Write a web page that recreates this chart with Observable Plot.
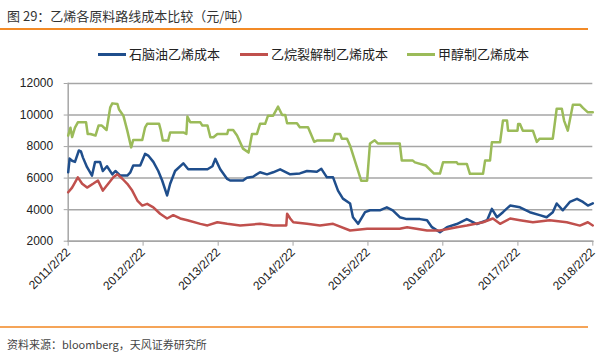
<!DOCTYPE html>
<html>
<head>
<meta charset="utf-8">
<script src="https://cdn.jsdelivr.net/npm/d3@7"></script>
<script src="https://cdn.jsdelivr.net/npm/@observablehq/plot@0.6"></script>
<style>
  html, body { margin:0; padding:0; background:#fff; width:598px; height:358px; overflow:hidden; position:relative; font-family:"Noto Sans CJK SC","Liberation Sans",sans-serif; }
  #title { position:absolute; left:7px; top:6px; font-size:13px; color:#333; white-space:nowrap; }
  #topline { position:absolute; left:0; top:28px; width:588px; height:2px; background:#f28a26; }
  #legend { position:absolute; top:46px; left:0; width:598px; height:16px; }
  .lg { position:absolute; top:0; font-size:13px; color:#222; line-height:16px; white-space:nowrap; }
  .sw { display:inline-block; width:28px; height:3px; vertical-align:middle; margin-right:3px; position:relative; top:-1px; }
  #chart { position:absolute; left:0; top:60px; }
  #botline { position:absolute; left:0; top:326px; width:588px; height:2px; background:#f5a458; }
  #caption { position:absolute; left:7px; top:336px; font-size:11px; color:#444; white-space:nowrap; }
</style>
</head>
<body>
<div id="title">图 29：乙烯各原料路线成本比较（元/吨）</div>
<div id="topline"></div>
<div id="legend"></div>
<div id="chart"></div>
<div id="botline"></div>
<div id="caption">资料来源：bloomberg，天风证券研究所</div>
<script>
const seriesNames = ["石脑油乙烯成本", "乙烷裂解制乙烯成本", "甲醇制乙烯成本"];
const seriesColors = ["#1f4e8c", "#c0504d", "#9bbb59"];
const xTickLabels = ["2011/2/22","2012/2/22","2013/2/22","2014/2/22","2015/2/22","2016/2/22","2017/2/22","2018/2/22"];
const yTicks = [2000, 4000, 6000, 8000, 10000, 12000];

const naphtha = [
["2011-02-22",6370],["2011-03-01",7240],["2011-03-13",7100],["2011-03-27",7030],["2011-04-15",7750],["2011-04-25",7700],
["2011-05-05",7300],["2011-05-25",6690],["2011-06-18",6160],["2011-07-03",7030],["2011-07-27",7030],["2011-08-10",6450],
["2011-08-30",6750],["2011-09-25",6240],["2011-10-10",6450],["2011-11-03",6160],["2011-12-07",6160],["2011-12-22",6370],
["2012-01-05",6800],["2012-02-08",6800],["2012-03-03",7540],["2012-03-18",7430],["2012-04-12",7030],["2012-05-06",6450],
["2012-05-25",5850],["2012-06-18",4900],["2012-07-03",5640],["2012-07-27",6450],["2012-09-05",6940],["2012-09-29",6560],
["2012-11-27",6560],["2013-01-01",6560],["2013-01-25",6750],["2013-02-08",7220],["2013-03-04",6560],["2013-04-07",5950],
["2013-04-21",5850],["2013-06-23",5850],["2013-07-12",6030],["2013-08-11",6090],["2013-09-14",6370],["2013-10-18",6240],
["2013-11-17",6370],["2013-12-21",6560],["2014-02-08",6240],["2014-03-27",6300],["2014-05-01",6450],["2014-06-18",6400],
["2014-07-10",6590],["2014-08-06",6050],["2014-09-05",6050],["2014-09-29",5210],["2014-10-23",4700],["2014-11-27",4390],
["2014-12-11",3520],["2015-01-05",3100],["2015-02-08",3840],["2015-03-04",3960],["2015-04-21",3960],["2015-05-25",4150],
["2015-06-23",3960],["2015-07-27",3520],["2015-08-30",3400],["2015-11-02",3400],["2015-12-07",3330],["2015-12-31",2890],
["2016-02-08",2570],["2016-03-13",2890],["2016-04-30",3090],["2016-06-18",3400],["2016-08-06",3090],["2016-09-25",3330],
["2016-10-18",4050],["2016-11-12",3520],["2016-12-11",3840],["2017-01-15",4260],["2017-03-04",4150],["2017-04-21",3840],
["2017-06-08",3650],["2017-07-12",3520],["2017-08-11",3840],["2017-08-30",4390],["2017-09-29",3960],["2017-11-02",4490],
["2017-12-07",4690],["2018-01-05",4490],["2018-01-29",4260],["2018-02-22",4400]
];

const ethane = [
["2011-02-22",5100],["2011-03-13",5400],["2011-04-10",6050],["2011-05-01",5640],["2011-05-25",5400],["2011-06-23",5640],
["2011-07-17",5850],["2011-08-10",5210],["2011-09-05",5640],["2011-09-30",6050],["2011-10-20",6240],["2011-11-13",5960],
["2011-12-07",5640],["2011-12-31",5210],["2012-01-25",4580],["2012-02-18",4260],["2012-03-13",4370],["2012-04-12",4150],
["2012-05-15",3740],["2012-06-18",3440],["2012-07-18",3650],["2012-08-21",3440],["2012-09-25",3330],["2012-11-27",3100],
["2013-01-01",3000],["2013-02-18",3200],["2013-04-07",3100],["2013-06-09",3000],["2013-09-14",3100],["2013-11-17",3000],
["2014-01-20",3000],["2014-01-24",3740],["2014-02-08",3440],["2014-02-23",3200],["2014-05-01",3100],["2014-07-03",3000],
["2014-09-05",3100],["2014-11-27",2680],["2015-02-18",2790],["2015-07-27",2790],["2015-09-01",2890],["2015-12-07",2680],
["2016-02-08",2680],["2016-04-30",2890],["2016-06-18",2990],["2016-09-05",3200],["2016-10-23",3440],["2016-11-27",3100],
["2017-01-15",3440],["2017-03-04",3330],["2017-05-06",3200],["2017-07-27",3330],["2017-10-18",3200],["2017-12-21",2990],
["2018-01-29",3200],["2018-02-22",3000]
];

const methanol = [
["2011-02-22",8700],["2011-03-05",9200],["2011-03-13",8600],["2011-03-27",9200],["2011-04-10",9540],["2011-05-20",9540],
["2011-05-28",8800],["2011-06-10",8800],["2011-07-05",8700],["2011-07-20",9330],["2011-08-05",9330],["2011-08-28",9050],
["2011-09-15",10490],["2011-09-25",10740],["2011-10-20",10700],["2011-10-28",10350],["2011-11-18",9960],["2011-12-07",9010],
["2011-12-26",7950],["2012-01-05",8420],["2012-02-18",8420],["2012-03-03",9220],["2012-03-13",9440],["2012-05-10",9440],
["2012-05-18",9050],["2012-05-28",8380],["2012-06-23",8380],["2012-07-03",8900],["2012-09-05",8900],["2012-09-20",8800],
["2012-09-25",9900],["2012-10-09",9540],["2012-11-27",9540],["2012-12-07",9330],["2013-01-01",9330],["2013-01-15",8590],
["2013-01-30",8590],["2013-02-18",8800],["2013-04-07",8800],["2013-04-12",9050],["2013-05-06",9050],["2013-05-25",8700],
["2013-06-23",7870],["2013-07-20",7620],["2013-08-06",8800],["2013-08-30",8800],["2013-09-14",9440],["2013-10-09",9440],
["2013-10-23",9960],["2013-11-17",9960],["2013-12-11",10530],["2013-12-31",10000],["2014-01-15",10000],["2014-01-24",9480],
["2014-03-13",9480],["2014-03-27",9220],["2014-05-06",9220],["2014-05-20",8800],["2014-06-05",8300],["2014-06-18",8380],
["2014-09-05",8380],["2014-09-15",8800],["2014-10-09",8800],["2014-10-18",8500],["2014-11-12",8500],["2014-11-27",8060],
["2014-12-31",6670],["2015-01-20",5840],["2015-02-18",5840],["2015-03-04",8200],["2015-03-27",8400],["2015-04-11",8200],
["2015-07-27",8200],["2015-08-06",7110],["2015-09-29",7110],["2015-10-09",7000],["2015-12-01",6800],["2016-01-10",6290],
["2016-02-08",6290],["2016-02-23",7000],["2016-04-30",7000],["2016-05-05",6900],["2016-06-18",6900],["2016-07-03",6270],
["2016-09-05",6270],["2016-09-15",7110],["2016-10-09",7110],["2016-10-18",8270],["2016-11-27",8270],["2016-12-11",9650],
["2016-12-31",9650],["2017-01-05",9010],["2017-02-20",9010],["2017-02-23",9430],["2017-03-04",9430],["2017-03-18",9010],
["2017-05-06",9010],["2017-05-25",8300],["2017-06-08",8500],["2017-08-11",8500],["2017-08-30",10400],["2017-09-24",10400],
["2017-10-05",9650],["2017-10-23",9010],["2017-11-17",10660],["2017-12-21",10660],["2018-01-05",10450],["2018-01-29",10170],
["2018-02-22",10170]
];

const parse = d3.utcParse("%Y/%m/%d");
const xTicks = xTickLabels.map(s => parse(s));
const fmt = d => `${d.getUTCFullYear()}/${d.getUTCMonth()+1}/${d.getUTCDate()}`;

const rows = [];
[naphtha, ethane, methanol].forEach((arr, i) => {
  arr.forEach(([d, v]) => rows.push({date: new Date(d + "T00:00:00Z"), value: v, series: seriesNames[i]}));
});

// legend
const legendX = [98, 240, 407];
const legend = document.getElementById("legend");
seriesNames.forEach((n, i) => {
  const el = document.createElement("div");
  el.className = "lg";
  el.style.left = legendX[i] + "px";
  el.innerHTML = `<span class="sw" style="background:${seriesColors[i]}"></span>${n}`;
  legend.appendChild(el);
});

const chart = Plot.plot({
  width: 598,
  height: 265,
  marginTop: 23,
  marginLeft: 67.7,
  marginRight: 5.7,
  marginBottom: 84.3,
  style: {fontFamily: "'Liberation Sans', Arial, sans-serif", fontSize: "12px", color: "#222", background: "transparent"},
  x: {type: "utc", domain: [xTicks[0], xTicks[xTicks.length - 1]]},
  y: {domain: [2000, 12000]},
  color: {domain: seriesNames, range: seriesColors},
  marks: [
    Plot.gridY(yTicks, {stroke: "#a6a6a6", strokeOpacity: 1, strokeWidth: 1.5}),
    Plot.frame({anchor: "left", stroke: "#a6a6a6", strokeWidth: 1.5}),
    Plot.frame({anchor: "bottom", stroke: "#a6a6a6", strokeWidth: 1.5}),
    Plot.axisY({ticks: yTicks, tickSize: 4, tickPadding: 11, stroke: "#a6a6a6", tickFormat: d => String(d), label: null, fill: "#222"}),
    Plot.axisX({ticks: xTicks, tickSize: 5, tickPadding: 4, tickRotate: -45, stroke: "#a6a6a6", tickFormat: fmt, label: null, fill: "#222"}),
    Plot.line(rows, {x: "date", y: "value", z: "series", stroke: "series", strokeWidth: 2.5, curve: "linear"})
  ]
});
document.getElementById("chart").appendChild(chart);
</script>
</body>
</html>
